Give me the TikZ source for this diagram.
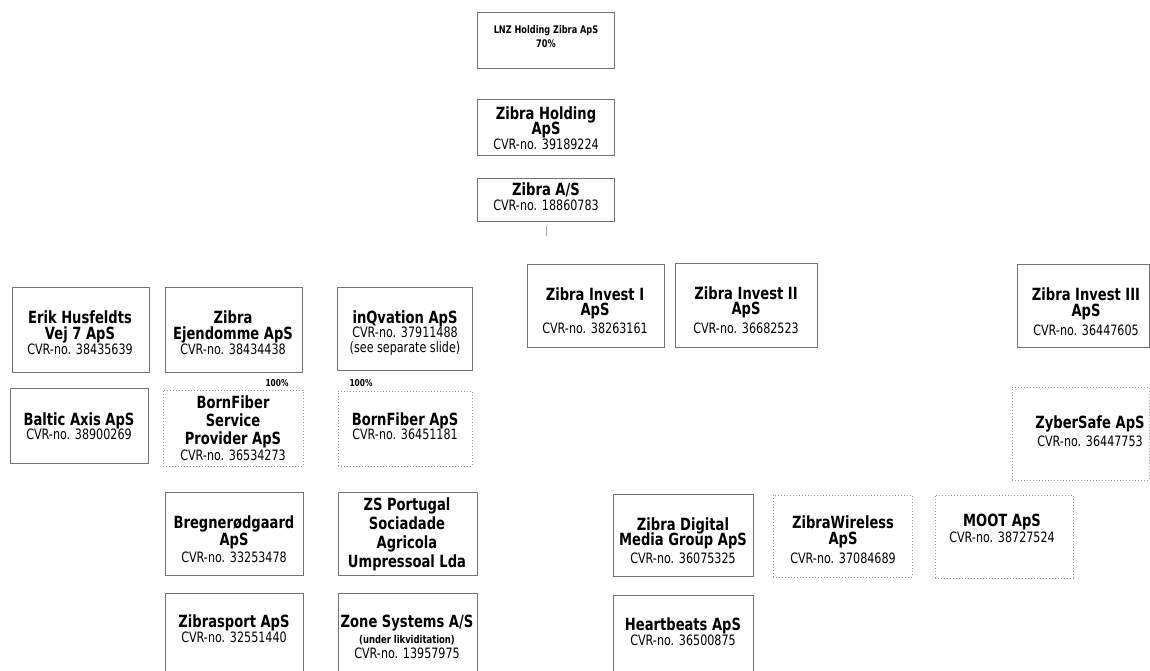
\documentclass[tikz,border=0pt]{standalone}
\usepackage{fontspec}
\setmainfont{DejaVu Sans}[FakeStretch=0.78]
\usetikzlibrary{fit}
\tikzset{
  cbox/.style={draw=black!55, line width=0.7pt, inner sep=0pt},
  lbox/.style={draw=black!40, line width=0.6pt, dash pattern=on 1pt off 2pt, inner sep=0pt},
  tt/.style={anchor=base, inner sep=0pt, font=\bfseries\fontsize{16.8}{16.8}\selectfont},
  cv/.style={anchor=base, inner sep=0pt, font=\fontsize{14.3}{14.3}\selectfont},
  sm/.style={anchor=base, inner sep=0pt, font=\bfseries\fontsize{10.5}{10.5}\selectfont},
  pc/.style={anchor=base, inner sep=0pt, font=\bfseries\fontsize{9.5}{9.5}\selectfont},
  nt/.style={anchor=base, inner sep=0pt, font=\bfseries\fontsize{10.8}{10.8}\selectfont},
  faint/.style={draw=black!35, line width=0.5pt},
}
\newcommand\bx[6]{\node[#2, fit={(#3,#4) (#5,#6)}] (#1) {};}
\newcommand\txl[5]{\node[#2] (#1) at (#3,#4) {#5};}
\begin{document}
\begin{tikzpicture}[x=1pt,y=-1pt]
\useasboundingbox[fill=white] (0,0) rectangle (1150,671);

% top chain
\bx{lnz}{cbox}{477}{12}{614}{68}
\txl{lnz1}{sm}{546}{34}{LNZ Holding Zibra ApS}
\txl{lnz2}{sm}{546}{48}{70\%}

\bx{zh}{cbox}{477}{99}{614}{155}
\txl{zh1}{tt}{546}{120}{Zibra Holding}
\txl{zh2}{tt}{546}{135}{ApS}
\txl{zh3}{cv}{546}{150}{CVR-no. 39189224}

\bx{zas}{cbox}{477}{178}{614}{221}
\txl{zas1}{tt}{546}{195}{Zibra A/S}
\txl{zas2}{cv}{546}{210}{CVR-no. 18860783}

\coordinate (tk1) at (546,226);
\coordinate (tk2) at (546,236);
\draw[faint] (tk1) -- (tk2);

% left columns
\bx{erik}{cbox}{12}{287}{149}{372}
\txl{erik1}{tt}{80}{323}{Erik Husfeldts}
\txl{erik2}{tt}{80}{339}{Vej 7 ApS}
\txl{erik3}{cv}{80}{354}{CVR-no. 38435639}

\bx{ejd}{cbox}{165}{287}{302}{372}
\txl{ejd1}{tt}{233}{323}{Zibra}
\txl{ejd2}{tt}{233}{339}{Ejendomme ApS}
\txl{ejd3}{cv}{233}{354}{CVR-no. 38434438}

\bx{inq}{cbox}{337}{287}{472}{370}
\txl{inq1}{tt}{405}{323}{inQvation ApS}
\txl{inq2}{cv}{405}{337}{CVR-no. 37911488}
\txl{inq3}{cv}{405}{352}{(see separate slide)}

\bx{balt}{cbox}{10}{388}{148}{463}
\txl{balt1}{tt}{79}{425}{Baltic Axis ApS}
\txl{balt2}{cv}{79}{439}{CVR-no. 38900269}

\bx{bfsp}{lbox}{163}{390}{303}{466}
\txl{bfsp1}{tt}{233}{408}{BornFiber}
\txl{bfsp2}{tt}{233}{426}{Service}
\txl{bfsp3}{tt}{233}{444}{Provider ApS}
\txl{bfsp4}{cv}{233}{460}{CVR-no. 36534273}
\txl{pc1}{pc}{277}{386}{100\%}

\bx{bfa}{lbox}{338}{391}{472}{466}
\txl{bfa1}{tt}{405}{425}{BornFiber ApS}
\txl{bfa2}{cv}{405}{439}{CVR-no. 36451181}
\txl{pc2}{pc}{361}{386}{100\%}

\bx{breg}{cbox}{165}{492}{303}{575}
\txl{breg1}{tt}{234}{528}{Bregnerødgaard}
\txl{breg2}{tt}{234}{545}{ApS}
\txl{breg3}{cv}{234}{562}{CVR-no. 33253478}

\bx{zsp}{cbox}{338}{492}{477}{575}
\txl{zsp1}{tt}{407}{510}{ZS Portugal}
\txl{zsp2}{tt}{407}{529}{Sociadade}
\txl{zsp3}{tt}{407}{548}{Agricola}
\txl{zsp4}{tt}{407}{567}{Umpressoal Lda}

\bx{zspo}{cbox}{165}{593}{303}{674}
\txl{zspo1}{tt}{234}{627}{Zibrasport ApS}
\txl{zspo2}{cv}{234}{642}{CVR-no. 32551440}

\bx{zone}{cbox}{338}{593}{477}{674}
\txl{zone1}{tt}{407}{627}{Zone Systems A/S}
\txl{zone2}{nt}{407}{643}{(under likviditation)}
\txl{zone3}{cv}{407}{658}{CVR-no. 13957975}

% invest companies
\bx{zi1}{cbox}{527}{264}{664}{347}
\txl{zi11}{tt}{595}{300}{Zibra Invest I}
\txl{zi12}{tt}{595}{315}{ApS}
\txl{zi13}{cv}{595}{333}{CVR-no. 38263161}

\bx{zi2}{cbox}{675}{263}{817}{347}
\txl{zi21}{tt}{746}{299}{Zibra Invest II}
\txl{zi22}{tt}{746}{314}{ApS}
\txl{zi23}{cv}{746}{333}{CVR-no. 36682523}

\bx{zi3}{cbox}{1017}{264}{1149}{347}
\txl{zi31}{tt}{1086}{300}{Zibra Invest III}
\txl{zi32}{tt}{1086}{316}{ApS}
\txl{zi33}{cv}{1086}{335}{CVR-no. 36447605}

\bx{zyb}{lbox}{1012}{387}{1149}{480}
\txl{zyb1}{tt}{1090}{428}{ZyberSafe ApS}
\txl{zyb2}{cv}{1090}{446}{CVR-no. 36447753}

\bx{zdm}{cbox}{613}{494}{753}{576}
\txl{zdm1}{tt}{683}{530}{Zibra Digital}
\txl{zdm2}{tt}{683}{545}{Media Group ApS}
\txl{zdm3}{cv}{683}{563}{CVR-no. 36075325}

\bx{zw}{lbox}{773}{495}{912}{577}
\txl{zw1}{tt}{843}{528}{ZibraWireless}
\txl{zw2}{tt}{843}{544}{ApS}
\txl{zw3}{cv}{843}{563}{CVR-no. 37084689}

\bx{moot}{lbox}{935}{495}{1073}{578}
\txl{moot1}{tt}{1002}{526}{MOOT ApS}
\txl{moot2}{cv}{1002}{542}{CVR-no. 38727524}

\bx{hb}{cbox}{613}{595}{753}{674}
\txl{hb1}{tt}{683}{630}{Heartbeats ApS}
\txl{hb2}{cv}{683}{645}{CVR-no. 36500875}
\end{tikzpicture}
\end{document}
